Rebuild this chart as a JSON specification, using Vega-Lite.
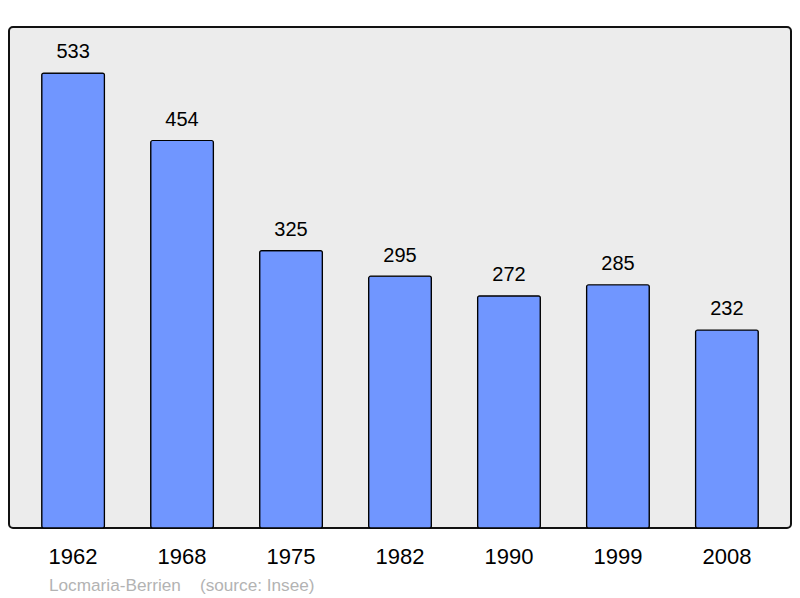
{
  "$schema": "https://vega.github.io/schema/vega-lite/v6.json",
  "width": 782,
  "height": 501,
  "autosize": {"type": "none"},
  "padding": {"left": 9, "top": 27, "right": 9, "bottom": 70},
  "background": "white",
  "config": {
    "view": {"fill": "#ececec", "stroke": "#111111", "strokeWidth": 2, "cornerRadius": 4},
    "font": "Liberation Sans"
  },
  "title": {
    "text": "Locmaria-Berrien\u00a0\u00a0\u00a0\u00a0(source: Insee)",
    "orient": "bottom",
    "anchor": "start",
    "frame": "group",
    "dx": 40,
    "offset": 10,
    "fontSize": 17.2,
    "fontWeight": "normal",
    "color": "#b3b3b3",
    "font": "Liberation Sans"
  },
  "data": {
    "values": [
      {"year": "1962", "pop": 533},
      {"year": "1968", "pop": 454},
      {"year": "1975", "pop": 325},
      {"year": "1982", "pop": 295},
      {"year": "1990", "pop": 272},
      {"year": "1999", "pop": 285},
      {"year": "2008", "pop": 232}
    ]
  },
  "encoding": {
    "x": {
      "field": "year",
      "type": "ordinal",
      "sort": null,
      "scale": {"paddingInner": 0.424, "paddingOuter": 0.3},
      "axis": {
        "title": null,
        "domain": false,
        "ticks": false,
        "labelAngle": 0,
        "labelFontSize": 22,
        "labelColor": "#000000",
        "labelFont": "Liberation Sans",
        "labelPadding": 18
      }
    },
    "y": {
      "field": "pop",
      "type": "quantitative",
      "scale": {"domain": [0, 587], "nice": false, "zero": true},
      "axis": null
    }
  },
  "layer": [
    {
      "mark": {"type": "bar", "fill": "#7096ff", "stroke": "#000000", "strokeWidth": 1.2, "cornerRadius": 2}
    },
    {
      "mark": {"type": "text", "baseline": "alphabetic", "dy": -14.7, "fontSize": 20, "color": "#000000", "font": "Liberation Sans"},
      "encoding": {"text": {"field": "pop", "type": "quantitative"}}
    }
  ]
}
